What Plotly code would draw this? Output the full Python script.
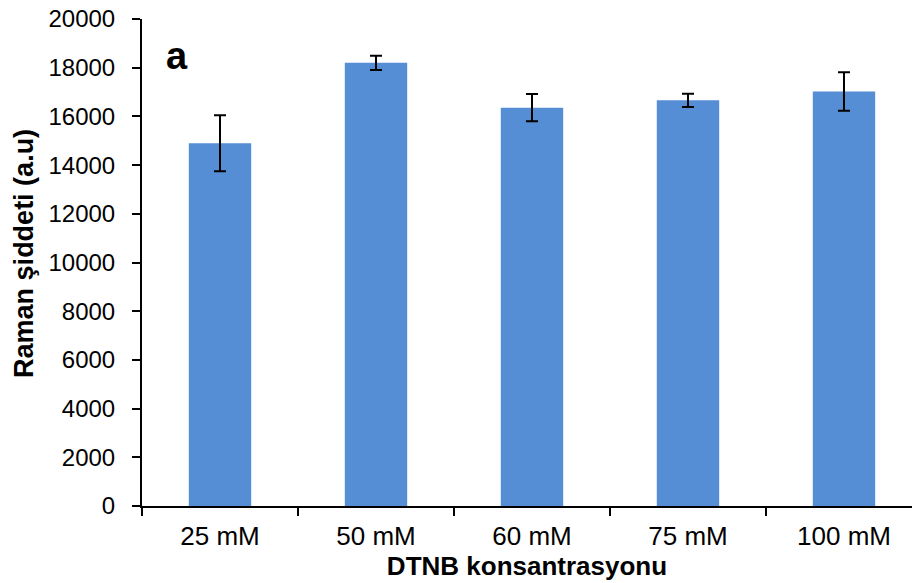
import plotly.graph_objects as go

# DTNB concentrations and mean Raman intensity with standard deviation
categories = ["25 mM", "50 mM", "60 mM", "75 mM", "100 mM"]
intensity = [14900, 18200, 16360, 16660, 17020]
intensity_sd = [1150, 295, 560, 275, 790]
y_ticks = list(range(0, 20001, 2000))

BAR_COLOR = "#558ED5"
FONT = "Liberation Sans, Arial, sans-serif"

fig = go.Figure(
    go.Bar(
        x=categories,
        y=intensity,
        marker=dict(color=BAR_COLOR, line=dict(width=0)),
        error_y=dict(
            type="data",
            array=intensity_sd,
            visible=True,
            color="black",
            thickness=2,
            width=6,
        ),
        showlegend=False,
    )
)

fig.update_layout(
    width=912,
    height=583,
    margin=dict(l=142, r=0, t=19, b=77),
    paper_bgcolor="white",
    plot_bgcolor="white",
    bargap=0.6,
    font=dict(family=FONT, color="black"),
    xaxis=dict(
        type="category",
        range=[-0.5, 4.436],
        showline=True,
        linecolor="black",
        linewidth=2,
        ticks="outside",
        tickson="boundaries",
        ticklen=8,
        tickwidth=2,
        tickcolor="black",
        ticklabelstandoff=6,
        tickfont=dict(size=26, family=FONT),
        showgrid=False,
        zeroline=False,
        title=dict(
            text="<b>DTNB konsantrasyonu</b>",
            font=dict(size=26, family=FONT),
            standoff=0,
        ),
    ),
    yaxis=dict(
        range=[0, 20000],
        tickvals=y_ticks,
        ticktext=[str(v) for v in y_ticks],
        showline=True,
        linecolor="black",
        linewidth=2,
        ticks="outside",
        ticklen=8,
        tickwidth=2,
        tickcolor="black",
        ticklabelstandoff=12,
        tickfont=dict(size=24, family=FONT),
        showgrid=False,
        zeroline=False,
    ),
    annotations=[
        # y-axis title, rotated and placed in the left margin
        dict(
            text="<b>Raman şiddeti (a.u)</b>",
            xref="paper",
            yref="paper",
            x=-0.153,
            y=0.518,
            xanchor="center",
            yanchor="middle",
            textangle=-90,
            showarrow=False,
            font=dict(size=27, family=FONT, color="black"),
        ),
        # panel label
        dict(
            text="<b>a</b>",
            xref="paper",
            yref="paper",
            x=0.029,
            y=0.923,
            xanchor="left",
            yanchor="middle",
            showarrow=False,
            font=dict(size=38, family=FONT, color="black"),
        ),
    ],
)

fig.write_html("out.html")
